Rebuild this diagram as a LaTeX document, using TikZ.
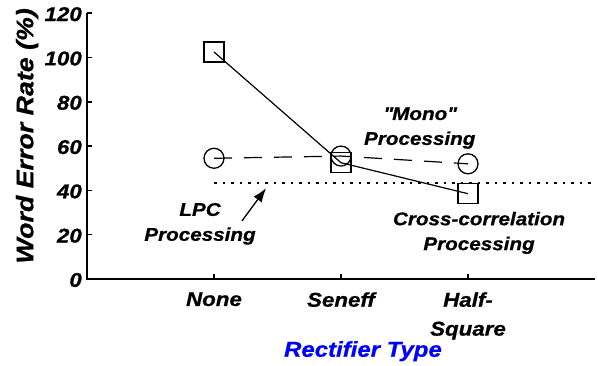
\documentclass[tikz,border=0pt]{standalone}
\usepackage{fontspec}
\setmainfont[FakeStretch=1.12,BoldItalicFeatures={FakeBold=0.8}]{Liberation Sans}
\usetikzlibrary{arrows.meta}
\begin{document}
\begin{tikzpicture}[x=127bp,y=2.215bp,
  lbl/.style={font=\fontsize{18.5}{25}\selectfont\bfseries\itshape,align=center,inner sep=0pt,anchor=north},
  sqmark/.style={draw,line width=1.3bp,minimum size=20bp,inner sep=0pt},
  cmark/.style={draw,circle,line width=1.3bp,minimum size=20bp,inner sep=0pt}]
\useasboundingbox (-87bp,-87bp) rectangle (511bp,279bp);
\draw[line width=1.5bp] (0,120) -- (0,0) -- (4,0); % axes
\foreach \y in {20,40,...,120}
\draw[line width=1.5bp] (0,\y) -- ++(5bp,0);
\foreach \y in {0,20,...,120}
\node[anchor=east,inner sep=0pt,font=\fontsize{20}{24}\selectfont\bfseries\itshape] (ylab\y) at ([xshift=-5bp,yshift=-1bp]0,\y) {\y};
\foreach \x/\t in {1/None,2/Seneff,3/{Half-\\Square}}{
\draw[line width=1.5bp] (\x,0) -- ++(0,5bp);
\node[anchor=north,inner sep=0pt,align=center,font=\fontsize{20}{29}\selectfont\bfseries\itshape] (xlab\x) at (\x,-5.9) {\t};}
\node[rotate=90,font=\fontsize{24}{26}\selectfont\bfseries\itshape] (ytitle) at (-0.472,64.6) {Word Error Rate (\%)};
\node[anchor=north,inner sep=0pt,text=blue,font=\fontsize{21.5}{26}\selectfont\bfseries\itshape] (xtitle) at (2.173,-28) {Rectifier Type};
% data
\node[sqmark] (sq1) at (1,102.5) {};
\node[sqmark] (sq2) at (2,52.5) {};
\node[sqmark] (sq3) at (3,38.5) {};
\node[cmark] (ci1) at (1,54.5) {};
\node[cmark] (ci2) at (2,55.5) {};
\node[cmark] (ci3) at (3,52) {};
\draw[line width=1.2bp] (sq1.center) -- (sq2.center) -- (sq3.center);
\draw[line width=1.2bp,dash pattern=on 18bp off 12bp] (ci1.center) -- (ci2.center) -- (ci3.center);
\coordinate (lpcA) at (1,43.3);
\coordinate (lpcB) at (4,43.3);
\draw[line width=1.3bp,dash pattern=on 2.5bp off 6bp] (lpcA) -- (lpcB);
\coordinate (arrtail) at (1.22,26.2);
\coordinate (arrtip) at (1.41,41);
\draw[-{Latex[length=14bp,width=10bp]},line width=1.3bp] (arrtail) -- (arrtip);
% labels
\node[lbl] (lpc) at (0.89,34.4) {LPC\\Processing};
\node[lbl] (mono) at (2.62,77.6) {\textquotedbl Mono\textquotedbl\\Processing};
\node[lbl] (xcorr) at (3.087,30.4) {Cross-correlation\\Processing};
\end{tikzpicture}
\end{document}
